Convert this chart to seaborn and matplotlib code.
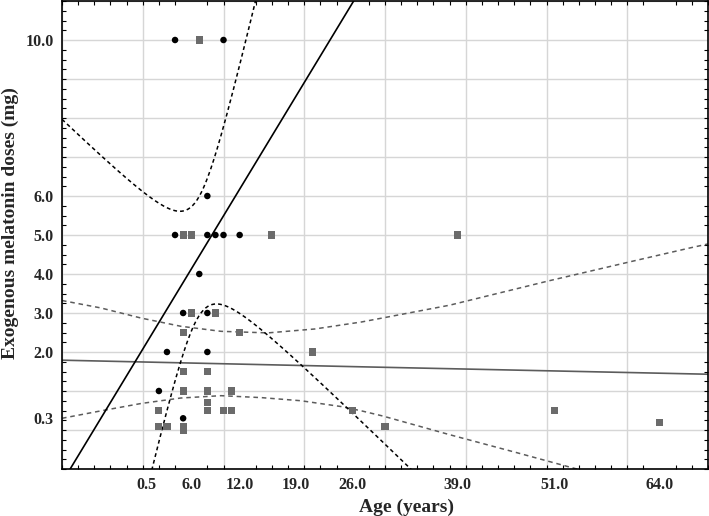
import numpy as np
import pandas as pd
import matplotlib
matplotlib.use('Agg')
import matplotlib.pyplot as plt
import seaborn as sns
from matplotlib.ticker import MultipleLocator

# points: black circles and grey squares
circle_age = [4, 10, 8, 4, 8, 9, 10, 12, 7, 5, 8, 3, 8, 2, 5]
circle_dose = [10, 10, 6, 5, 5, 5, 5, 5, 4, 3, 3, 2, 2, 1, 0.3]

square_age = [7, 5, 6, 16, 39, 6, 9, 5, 12, 21, 5, 8, 5, 8, 11, 8,
              2, 8, 10, 11, 26, 51, 2, 3, 5, 5, 30, 64]
square_dose = [10, 5, 5, 5, 5, 3, 3, 2.5, 2.5, 2, 1.5, 1.5, 1, 1, 1, 0.7,
               0.5, 0.5, 0.5, 0.5, 0.5, 0.5, 0.1, 0.1, 0.1, 0.0, 0.1, 0.2]

# grey group fit line and confidence band
grey_fit_age = [-10, 27.1, 70]
grey_fit_dose = [1.79, 1.62, 1.43]
grey_upper_age = [-10, -5.2, -0.2, 4.7, 9.7, 15.5, 21.3, 27.1, 38, 50.4, 60.7, 67.8, 70]
grey_upper_dose = [3.32, 3.13, 2.87, 2.66, 2.53, 2.49, 2.59, 2.77, 3.20, 3.83, 4.33, 4.67, 4.77]
grey_lower_age = [-10, -5.2, -0.2, 4.7, 9.7, 14.7, 19.6, 24.6, 27.1, 29.7, 38, 46.3, 54.1]
grey_lower_dose = [0.30, 0.49, 0.68, 0.82, 0.88, 0.83, 0.75, 0.60, 0.49, 0.36, -0.12, -0.58, -1.02]

x_ticks = [0.5, 6.0, 12.0, 19.0, 26.0, 39.0, 51.0, 64.0]
y_ticks = [0.3, 2.0, 3.0, 4.0, 5.0, 6.0, 10.0]

# two-sided 95% t quantile for 13 degrees of freedom
t_13 = 2.160


def fit_with_ci(x, y, grid):
    # ordinary least squares line plus 95% confidence band of the mean
    x = np.asarray(x, float)
    y = np.asarray(y, float)
    n = len(x)
    slope, intercept = np.polyfit(x, y, 1)
    resid = y - (intercept + slope * x)
    s = np.sqrt(np.sum(resid ** 2) / (n - 2))
    sxx = np.sum((x - x.mean()) ** 2)
    fit = intercept + slope * grid
    hw = t_13 * s * np.sqrt(1 / n + (grid - x.mean()) ** 2 / sxx)
    return pd.DataFrame({'age': grid, 'fit': fit, 'lower': fit - hw, 'upper': fit + hw})


grid = np.linspace(-10, 70, 600)
circle_fit = fit_with_ci(circle_age, circle_dose, grid)

sns.set_theme(style='white')
plt.rcParams['font.family'] = ['Liberation Serif', 'DejaVu Serif']

fig = plt.figure(figsize=(7.09, 5.16), dpi=100)
ax = fig.add_axes([62 / 709, 1 - 469 / 516, 646 / 709, 468 / 516])

# light grid
for gx in np.arange(-10, 71, 10):
    ax.axvline(gx, color='#d6d6d6', lw=1, zorder=0)
for gy in np.arange(-1, 12, 1):
    ax.axhline(gy, color='#d6d6d6', lw=1, zorder=0)

# grey group
grey = '#5c5c5c'
sns.lineplot(x=grey_fit_age, y=grey_fit_dose, color=grey, lw=1.2, ax=ax)
sns.lineplot(x=grey_upper_age, y=grey_upper_dose, color=grey, lw=1.1,
             ls=(0, (3, 2.5)), ax=ax)
sns.lineplot(x=grey_lower_age, y=grey_lower_dose, color=grey, lw=1.1,
             ls=(0, (3, 2.5)), ax=ax)

# black group
sns.lineplot(data=circle_fit, x='age', y='fit', color='black', lw=1.2, ax=ax)
sns.lineplot(data=circle_fit, x='age', y='upper', color='black', lw=1.1,
             ls=(0, (2.5, 2)), ax=ax)
sns.lineplot(data=circle_fit, x='age', y='lower', color='black', lw=1.1,
             ls=(0, (2.5, 2)), ax=ax)

sns.scatterplot(x=square_age, y=square_dose, marker='s', s=26, color='#6b6b6b',
                edgecolor='none', zorder=3, ax=ax)
sns.scatterplot(x=circle_age, y=circle_dose, marker='o', s=22, color='black',
                edgecolor='none', zorder=4, ax=ax)

ax.set_xlim(-10, 70)
ax.set_ylim(-1, 11)
ax.set_xticks(x_ticks)
ax.set_xticklabels([f'{v:.1f}' for v in x_ticks])
ax.set_yticks(y_ticks)
ax.set_yticklabels([f'{v:.1f}' for v in y_ticks])
ax.xaxis.set_minor_locator(MultipleLocator(2))
ax.yaxis.set_minor_locator(MultipleLocator(0.25))
ax.tick_params(which='major', length=0, pad=6, labelsize=11.5)
ax.tick_params(which='minor', direction='in', length=3, width=0.8, color='black',
               top=True, right=True, bottom=True, left=True)
for lab in ax.get_xticklabels() + ax.get_yticklabels():
    lab.set_fontweight('bold')

for sp in ax.spines.values():
    sp.set_color('black')
    sp.set_linewidth(1.2)

ax.set_xlabel('Age (years)', fontsize=14, fontweight='bold', va='center')
ax.set_ylabel('Exogenous melatonin doses (mg)', fontsize=14, fontweight='bold', va='center')
ax.xaxis.set_label_coords(0.534, -0.081)
ax.yaxis.set_label_coords(-0.080, 0.526)

fig.savefig('out.png', dpi=100)
